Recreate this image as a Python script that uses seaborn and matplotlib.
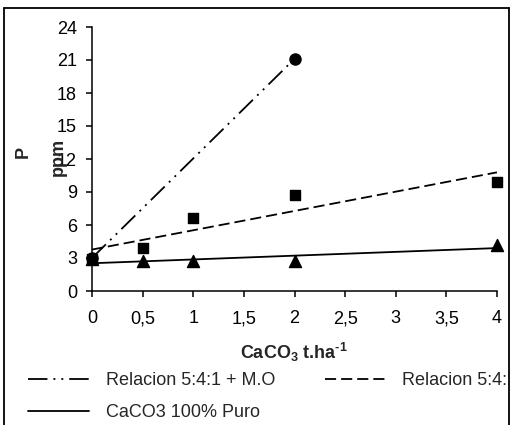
import numpy as np
import pandas as pd
import seaborn as sns
import matplotlib.pyplot as plt
from matplotlib.lines import Line2D
from matplotlib.patches import Rectangle

# data
dosis = [0, 0.5, 1, 2, 4]
dosis_mo = [0, 2]
p_mo = [3.0, 21.1]                   # Relacion 5:4:1 + M.O
p_541 = [2.9, 3.9, 6.6, 8.7, 9.9]    # Relacion 5:4:1
p_puro = [2.9, 2.7, 2.7, 2.7, 4.2]   # CaCO3 100% Puro

x_ticks = [0, 0.5, 1, 1.5, 2, 2.5, 3, 3.5, 4]
x_tick_labels = ['0', '0,5', '1', '1,5', '2', '2,5', '3', '3,5', '4']
y_ticks = [0, 3, 6, 9, 12, 15, 18, 21, 24]

labels = ['Relacion 5:4:1 + M.O', 'Relacion 5:4:1', 'CaCO3 100% Puro']

sns.set_style('ticks')
plt.rcParams['font.family'] = ['Liberation Sans', 'DejaVu Sans']
plt.rcParams['mathtext.fontset'] = 'custom'
plt.rcParams['mathtext.rm'] = 'Liberation Sans:bold'
plt.rcParams['mathtext.default'] = 'rm'
plt.rcParams['lines.scale_dashes'] = False

W, H = 514, 425
fig = plt.figure(figsize=(W / 100, H / 100), dpi=100)
ax = fig.add_axes([92 / W, 1 - 291 / H, 405 / W, 264 / H])

dashdot = (0, (14, 4.3, 1.4, 4.3, 1.4, 4.3))
dashed = (0, (8, 3.6))

sns.regplot(x=dosis_mo, y=p_mo, ax=ax, ci=None, color='black', marker='o',
            scatter_kws={'s': 64, 'clip_on': False, 'alpha': 1},
            line_kws={'linestyle': dashdot, 'lw': 1.3})
sns.regplot(x=dosis, y=p_541, ax=ax, ci=None, color='black', marker='s',
            scatter_kws={'s': 60, 'clip_on': False, 'alpha': 1},
            line_kws={'linestyle': dashed, 'lw': 1.3})
sns.regplot(x=dosis, y=p_puro, ax=ax, ci=None, color='black', marker='^',
            scatter_kws={'s': 75, 'clip_on': False, 'alpha': 1},
            line_kws={'linestyle': '-', 'lw': 1.3})

ax.set_xlim(0, 4)
ax.set_ylim(0, 24)
ax.set_xticks(x_ticks)
ax.set_xticklabels(x_tick_labels)
ax.set_yticks(y_ticks)
ax.tick_params(axis='both', labelsize=13, colors='black', length=4, width=1.1,
               direction='out')
ax.tick_params(axis='x', pad=10)
ax.tick_params(axis='y', pad=6.8)
sns.despine(ax=ax)
for s in ['left', 'bottom']:
    ax.spines[s].set_linewidth(1.1)
    ax.spines[s].set_color('black')
ax.set_xlabel('')
ax.set_ylabel('')

fig.text(294 / W, 1 - 352 / H, 'CaCO$_{3}$ t.ha$^{\u2010 1}$', ha='center', va='center',
         fontsize=13, fontweight='bold')
fig.text(23 / W, 1 - 152 / H, 'P', rotation=90, ha='center', va='center',
         fontsize=13, fontweight='bold')
fig.text(58 / W, 1 - 157 / H, 'ppm', rotation=90, ha='center', va='center',
         fontsize=13, fontweight='bold')

handles = [Line2D([], [], color='black', lw=1.3, linestyle=dashdot),
           Line2D([], [], color='black', lw=1.3, linestyle='-'),
           Line2D([], [], color='black', lw=1.3, linestyle=dashed)]
fig.legend(handles, [labels[0], labels[2], labels[1]], ncol=2, frameon=False,
           loc='upper left', bbox_to_anchor=(28 / W, 1 - 372 / H),
           borderpad=0, borderaxespad=0, fontsize=13, handlelength=3.4,
           handletextpad=0.9, columnspacing=2.75, labelspacing=0.85)

# chart frame, right side clips the legend
fig.add_artist(Rectangle((509 / W, 0), 1 - 509 / W, 1, transform=fig.transFigure,
                         facecolor='white', edgecolor='none', zorder=10))
fig.add_artist(Line2D([4 / W, 4 / W], [0, 1 - 8 / H], color='black', lw=1.3, zorder=11))
fig.add_artist(Line2D([4 / W, 509 / W], [1 - 8 / H, 1 - 8 / H], color='black', lw=1.3, zorder=11))
fig.add_artist(Line2D([509 / W, 509 / W], [0, 1 - 8 / H], color='black', lw=1.3, zorder=11))

fig.savefig('out.png', dpi=100)
